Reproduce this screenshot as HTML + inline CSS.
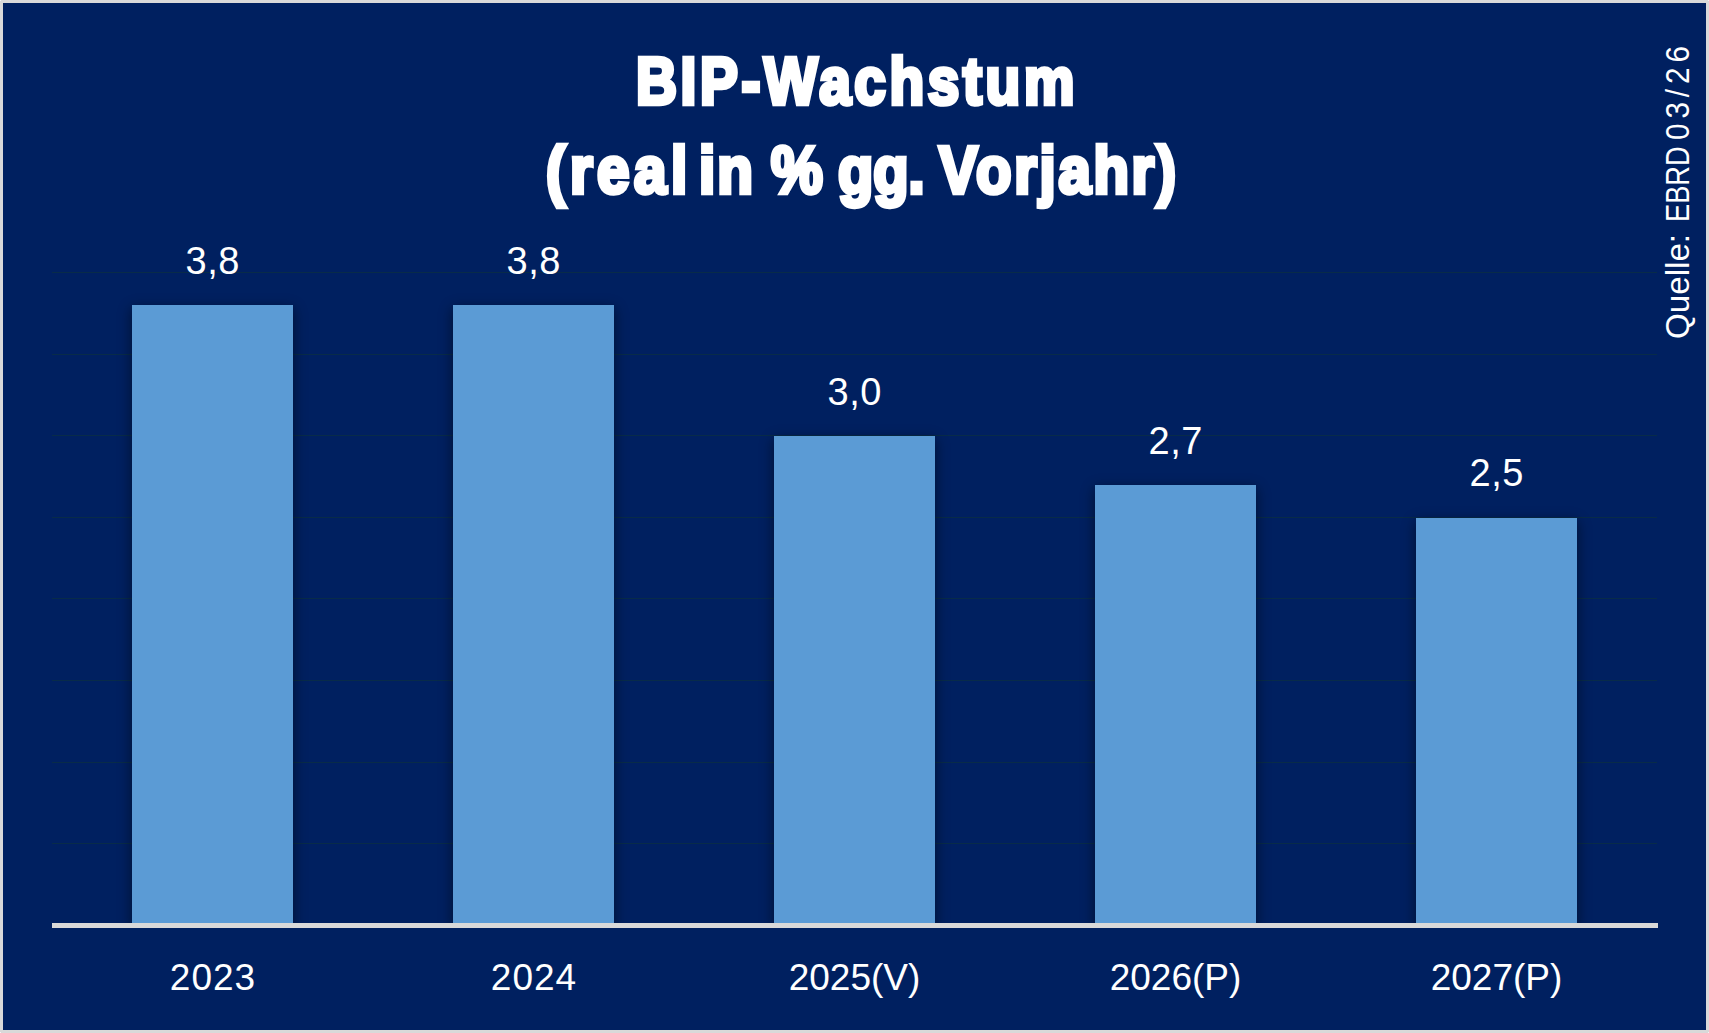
<!DOCTYPE html>
<html lang="de">
<head>
<meta charset="utf-8">
<title>BIP-Wachstum</title>
<style>
html,body{margin:0;padding:0;}
body{width:1709px;height:1033px;overflow:hidden;background:#d9d9d9;font-family:"Liberation Sans",sans-serif;}
#frame{position:absolute;left:0;top:0;width:1709px;height:1033px;background:#d9d9d9;}
#chart{position:absolute;left:3px;top:3px;width:1703px;height:1027px;background:#002060;overflow:hidden;}
.px{position:absolute;width:1px;height:1px;background:#f4f4f4;}
.grid{position:absolute;left:49px;width:1605px;height:1px;background:#082b49;}
.bar{position:absolute;width:161px;background:#5b9bd5;box-shadow:0 4px 12px 1px rgba(0,0,0,.45);}
#plot{position:absolute;left:0;top:0;width:1703px;height:922px;overflow:hidden;}
#axis{position:absolute;left:49px;top:920px;width:1605.5px;height:5px;background:#d9d9d9;}
.cat.d4{letter-spacing:1px;text-indent:1px;}
.val,.cat{position:absolute;width:321px;text-align:center;color:#fff;font-size:37px;line-height:40px;height:40px;white-space:nowrap;}
.val{font-size:38px;letter-spacing:.5px;text-indent:.5px;}
.tw{position:absolute;white-space:nowrap;color:#fff;font:bold 66px/80px "Liberation Sans",sans-serif;transform-origin:0 0;-webkit-text-stroke:4.5px #fff;}
.src{position:absolute;left:1655.7px;color:#fff;font-size:34px;line-height:36px;height:36px;white-space:nowrap;transform-origin:0 0;}
</style>
</head>
<body>
<div id="frame">
<div class="px" style="left:0;top:0"></div><div class="px" style="right:0;top:0"></div><div class="px" style="left:0;bottom:0"></div><div class="px" style="right:0;bottom:0"></div>
<div id="chart">
  <!-- gridlines (coords relative to chart = page - 3) -->
  <div class="grid" style="top:269px"></div>
  <div class="grid" style="top:351px"></div>
  <div class="grid" style="top:432px"></div>
  <div class="grid" style="top:514px"></div>
  <div class="grid" style="top:595px"></div>
  <div class="grid" style="top:677px"></div>
  <div class="grid" style="top:759px"></div>
  <div class="grid" style="top:840px"></div>

  <div id="plot">
  <div class="bar" style="left:129px;top:301.8px;height:620.2px"></div>
  <div class="bar" style="left:450px;top:301.8px;height:620.2px"></div>
  <div class="bar" style="left:771px;top:433px;height:489px"></div>
  <div class="bar" style="left:1092px;top:482px;height:440px"></div>
  <div class="bar" style="left:1413px;top:514.6px;height:407.4px"></div>
  </div>

  <div id="axis"></div>

  <div class="val" style="left:49px;top:238px">3,8</div>
  <div class="val" style="left:370px;top:238px">3,8</div>
  <div class="val" style="left:691px;top:369px">3,0</div>
  <div class="val" style="left:1012px;top:418px">2,7</div>
  <div class="val" style="left:1333px;top:450px">2,5</div>

  <div class="cat d4" style="left:49px;top:955px">2023</div>
  <div class="cat d4" style="left:370px;top:955px">2024</div>
  <div class="cat" style="left:691px;top:955px">2025(V)</div>
  <div class="cat" style="left:1012px;top:955px">2026(P)</div>
  <div class="cat" style="left:1333px;top:955px">2027(P)</div>

  <div class="title">
  <span class="tw" style="left:632.68px;top:37.9px;letter-spacing:4.25px;transform:scaleX(0.8595)">BIP-Wachstum</span>
  <span class="tw" style="left:543.12px;top:126.6px;letter-spacing:5.12px;transform:scaleX(0.8827)">(real</span> <span class="tw" style="left:696.03px;top:126.6px;letter-spacing:2.39px;transform:scaleX(0.8860)">in</span> <span class="tw" style="left:768.38px;top:126.6px;letter-spacing:0.00px;transform:scaleX(0.8817)">%</span> <span class="tw" style="left:834.50px;top:126.6px;letter-spacing:0.00px;transform:scaleX(0.8742)">gg.</span> <span class="tw" style="left:935.54px;top:126.6px;letter-spacing:3.10px;transform:scaleX(0.8790)">Vorjahr)</span>
  </div>

  <div class="src" style="top:336px;transform:rotate(-90deg) scaleX(.975)">Quelle:</div>
  <div class="src" style="top:219px;transform:rotate(-90deg) scaleX(.8)">EBRD</div>
  <div class="src" style="top:136.6px;letter-spacing:5.7px;transform:rotate(-90deg) scaleX(.87)">03/26</div>
</div>
</div>
</body>
</html>
